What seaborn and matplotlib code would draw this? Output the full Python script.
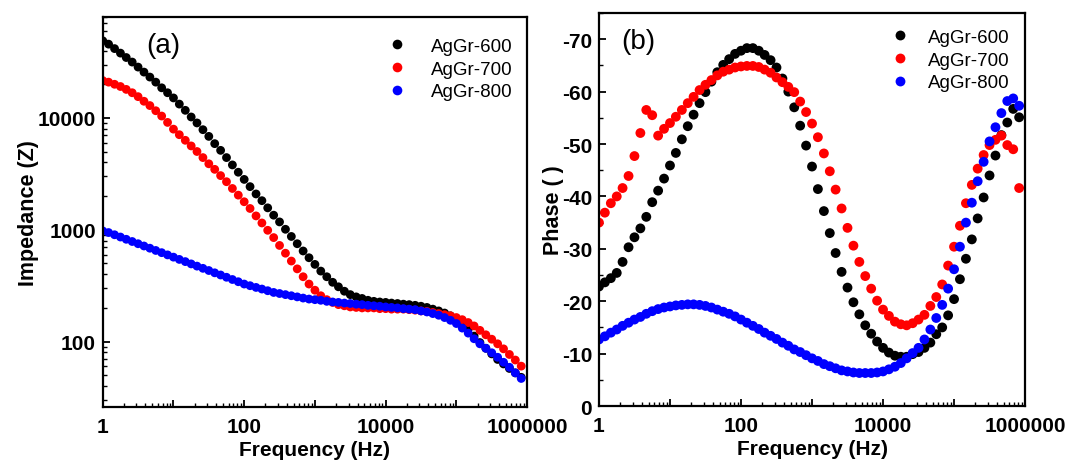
import numpy as np
import pandas as pd
import matplotlib
matplotlib.use("Agg")
import matplotlib.pyplot as plt
import seaborn as sns
from matplotlib.ticker import LogLocator, NullFormatter, MultipleLocator, FixedLocator

# ---------------- data ----------------
freq = [1, 1.21, 1.47, 1.78, 2.15, 2.61, 3.16, 3.83, 4.64, 5.62, 6.81, 8.25,
        10, 12.1, 14.7, 17.8, 21.5, 26.1, 31.6, 38.3, 46.4, 56.2, 68.1, 82.5,
        100, 121, 147, 178, 215, 261, 316, 383, 464, 562, 681, 825,
        1000, 1210, 1470, 1780, 2150, 2610, 3160, 3830, 4640, 5620, 6810, 8250,
        10000, 12100, 14700, 17800, 21500, 26100, 31600, 38300, 46400, 56200, 68100, 82500,
        100000, 121000, 147000, 178000, 215000, 261000, 316000, 383000, 464000, 562000, 681000, 825000]

samples = ["AgGr-600", "AgGr-700", "AgGr-800"]

imp_600 = [49000, 45700, 41700, 38000, 34700, 31600, 28500, 25700, 23200, 20900, 18600, 16800,
           15100, 13300, 11700, 10200, 9020, 7850, 6840, 5890, 5130, 4420, 3800, 3270,
           2820, 2430, 2090, 1820, 1570, 1350, 1175, 1010, 871, 750, 646, 562,
           490, 427, 380, 339, 309, 282, 263, 251, 243, 234, 229, 226,
           224, 221, 219, 216, 214, 211, 207, 202, 195, 188, 180, 170,
           158, 145, 129, 112, 98, 87.1, 77.6, 69.2, 63.1, 57.5, 52.5, 47.9]
imp_700 = [21600, 20900, 20000, 19100, 18000, 16800, 15500, 14100, 12900, 11600, 10400, 9120,
           7940, 7080, 6310, 5620, 5010, 4420, 3890, 3470, 3050, 2690, 2340, 2040,
           1780, 1550, 1330, 1150, 989, 851, 724, 617, 525, 447, 380, 327,
           288, 257, 237, 224, 214, 209, 204, 202, 200, 200, 200, 197,
           197, 195, 195, 195, 193, 191, 188, 186, 182, 178, 174, 170,
           164, 157, 148, 138, 126, 115, 105, 95.5, 86.1, 76.7, 68.4, 60.3]
imp_800 = [977, 944, 902, 861, 822, 785, 750, 716, 684, 653, 624, 596,
           569, 543, 519, 495, 473, 452, 432, 412, 394, 376, 359, 343,
           327, 316, 305, 295, 285, 275, 269, 263, 257, 251, 245, 240,
           237, 234, 229, 226, 224, 221, 219, 216, 214, 211, 209, 207,
           204, 202, 200, 197, 195, 193, 188, 184, 178, 172, 164, 155,
           145, 132, 119, 106, 95.5, 87.1, 79.4, 72.4, 65.3, 58.9, 52.5, 46.8]

phase_600 = [-22.8, -23.6, -24.4, -25.4, -27.5, -30.3, -32.2, -33.9, -36.1, -38.9, -41.1, -43.4,
             -45.9, -48.3, -50.9, -53.4, -55.6, -57.8, -59.9, -61.9, -63.7, -65.1, -66.2, -67.2,
             -67.8, -68.3, -68.3, -67.8, -67.0, -66.0, -64.6, -62.5, -60.0, -57.0, -53.5, -49.7,
             -45.7, -41.4, -37.2, -33.0, -29.2, -25.6, -22.6, -19.8, -17.5, -15.4, -13.8, -12.3,
             -11.1, -10.2, -9.6, -9.4, -9.4, -9.9, -10.3, -11.1, -12.1, -13.7, -15.0, -17.3,
             -20.4, -24.2, -28.1, -31.8, -35.8, -39.8, -44.0, -47.8, -51.7, -54.1, -56.7, -55.1]
phase_700 = [-35.0, -36.9, -38.7, -40.0, -41.6, -43.9, -47.7, -52.1, -56.5, -55.5, -51.6, -52.9,
             -54.0, -55.2, -56.5, -57.8, -59.0, -60.3, -61.3, -62.2, -63.1, -63.8, -64.2, -64.6,
             -64.8, -64.9, -64.9, -64.7, -64.2, -63.6, -62.7, -61.8, -60.9, -59.9, -58.1, -56.1,
             -53.9, -51.3, -48.2, -44.8, -41.3, -37.7, -34.0, -30.6, -27.5, -24.8, -22.4, -20.1,
             -18.4, -17.2, -16.1, -15.6, -15.4, -15.8, -16.5, -17.4, -19.1, -20.8, -23.2, -26.8,
             -30.4, -34.4, -38.7, -42.2, -45.3, -47.9, -49.8, -50.8, -51.6, -49.8, -49.0, -41.6]
phase_800 = [-12.7, -13.3, -14.0, -14.6, -15.3, -15.9, -16.5, -17.0, -17.6, -18.1, -18.5, -18.8,
             -19.0, -19.2, -19.3, -19.4, -19.4, -19.3, -19.1, -18.8, -18.4, -18.0, -17.6, -17.1,
             -16.5, -15.9, -15.3, -14.7, -14.0, -13.4, -12.8, -12.1, -11.5, -10.8, -10.3, -9.7,
             -9.1, -8.6, -8.0, -7.6, -7.2, -6.8, -6.6, -6.4, -6.3, -6.3, -6.3, -6.4,
             -6.6, -7.0, -7.5, -8.2, -9.1, -10.1, -11.1, -12.7, -14.6, -16.8, -19.3, -22.4,
             -26.1, -30.4, -35.0, -38.8, -42.9, -46.6, -50.5, -53.2, -55.9, -58.2, -58.7, -57.3]

colors = {"AgGr-600": "#000000", "AgGr-700": "#ff0000", "AgGr-800": "#0000ff"}

# ---------------- long-form tables ----------------
imp_df = pd.concat([
    pd.DataFrame({"Frequency": freq, "Value": v, "Sample": s})
    for s, v in zip(samples, [imp_600, imp_700, imp_800])
], ignore_index=True)
ph_df = pd.concat([
    pd.DataFrame({"Frequency": freq, "Value": v, "Sample": s})
    for s, v in zip(samples, [phase_600, phase_700, phase_800])
], ignore_index=True)

# ---------------- style ----------------
sns.set_style("ticks")
plt.rcParams["font.family"] = ["Liberation Sans", "DejaVu Sans"]
plt.rcParams["xtick.direction"] = "in"
plt.rcParams["ytick.direction"] = "in"
plt.rcParams["text.color"] = "black"
plt.rcParams["axes.labelcolor"] = "black"
plt.rcParams["xtick.color"] = "black"
plt.rcParams["ytick.color"] = "black"
plt.rcParams["axes.edgecolor"] = "black"

fig = plt.figure(figsize=(10.69, 4.64), dpi=100)
ax1 = fig.add_axes([0.0961, 0.1207, 0.397, 0.8406])
ax2 = fig.add_axes([0.5603, 0.1228, 0.3986, 0.8470])

sns.scatterplot(data=imp_df, x="Frequency", y="Value", hue="Sample", palette=colors,
                s=40, edgecolor="none", linewidth=0, ax=ax1, legend=True)
sns.scatterplot(data=ph_df, x="Frequency", y="Value", hue="Sample", palette=colors,
                s=50, edgecolor="none", linewidth=0, ax=ax2, legend=True)

xt = [1, 10, 100, 1000, 10000, 100000, 1000000]
xtl = ["1", "", "100", "", "10000", "", "1000000"]

TICK_FS = 15
LABEL_FS = 15

for ax in (ax1, ax2):
    ax.set_xscale("log")
    ax.set_xlim(1, 1e6)
    ax.xaxis.set_major_locator(FixedLocator(xt))
    ax.set_xticklabels(xtl)
    ax.xaxis.set_minor_locator(LogLocator(base=10, subs=np.arange(2, 10), numticks=20))
    ax.xaxis.set_minor_formatter(NullFormatter())
    for sp in ax.spines.values():
        sp.set_linewidth(1.6)
        sp.set_color("black")
    ax.tick_params(which="major", length=5, width=1.3, labelsize=TICK_FS,
                   top=False, right=False, colors="black")
    ax.tick_params(axis="x", which="major", pad=7)
    ax.tick_params(axis="y", which="major", pad=5)
    ax.tick_params(which="minor", length=3, width=1.0, top=False, right=False, colors="black")
    ax.set_xlabel("Frequency (Hz)", fontsize=LABEL_FS, fontweight="bold", labelpad=3,
                  color="black")

# panel (a)
ax1.set_yscale("log")
ax1.set_ylim(26, 80000)
ax1.yaxis.set_major_locator(FixedLocator([100, 1000, 10000]))
ax1.set_yticklabels(["100", "1000", "10000"])
ax1.yaxis.set_minor_locator(LogLocator(base=10, subs=np.arange(2, 10), numticks=20))
ax1.yaxis.set_minor_formatter(NullFormatter())
ax1.set_ylabel("Impedance (Z)", fontsize=LABEL_FS + 0.5, fontweight="bold", labelpad=-1,
               color="black")
ax1.text(0.103, 0.928, "(a)", transform=ax1.transAxes, fontsize=20, va="center", ha="left",
         color="black")

# panel (b)
ax2.set_ylim(0, -75)
ax2.yaxis.set_minor_locator(MultipleLocator(5))
ax2.set_yticks([0, -10, -20, -30, -40, -50, -60, -70])
ax2.set_yticklabels(["0", "-10", "-20", "-30", "-40", "-50", "-60", "-70"])
ax2.set_ylabel("Phase ( )", fontsize=LABEL_FS + 0.5, fontweight="bold", labelpad=-2,
               color="black")
ax2.text(0.052, 0.928, "(b)", transform=ax2.transAxes, fontsize=20, va="center", ha="left",
         color="black")

for ax in (ax1, ax2):
    for lab in ax.get_xticklabels() + ax.get_yticklabels():
        lab.set_fontweight("bold")
        lab.set_color("black")

h, l = ax1.get_legend_handles_labels()
leg1 = ax1.legend(h, l, loc="upper right", bbox_to_anchor=(1.0, 0.985), frameon=False,
                  fontsize=13.5, handletextpad=0.8, labelspacing=0.3, borderaxespad=0.4,
                  markerscale=1.1, labelcolor="black")
h, l = ax2.get_legend_handles_labels()
leg2 = ax2.legend(h, l, loc="upper right", bbox_to_anchor=(1.0, 0.998), frameon=False,
                  fontsize=13.5, handletextpad=0.5, labelspacing=0.3, borderaxespad=0.4,
                  markerscale=1.0, labelcolor="black")

fig.savefig("out.png", dpi=100)
